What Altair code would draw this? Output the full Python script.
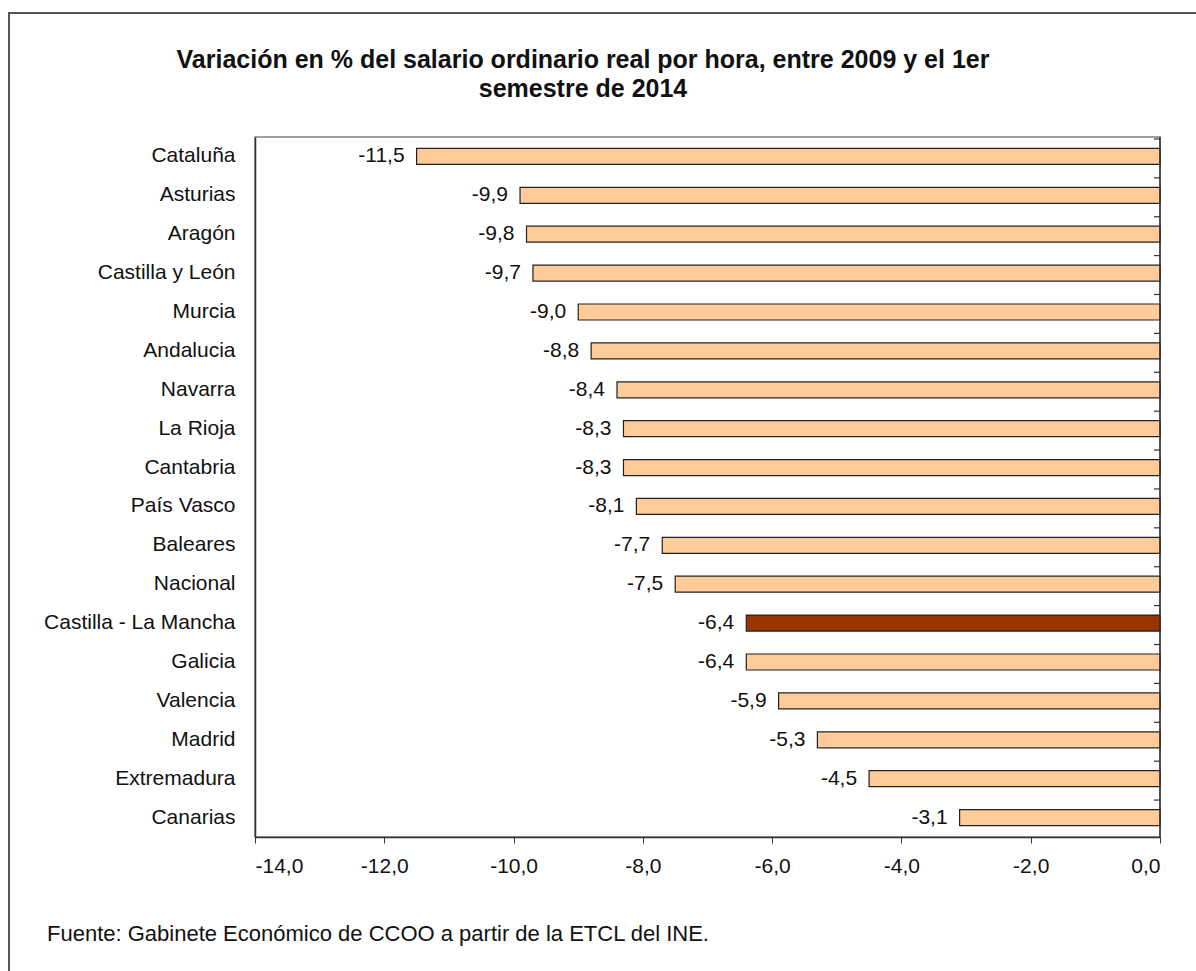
import altair as alt
import pandas as pd

regions = ["Cataluña", "Asturias", "Aragón", "Castilla y León", "Murcia", "Andalucia",
           "Navarra", "La Rioja", "Cantabria", "País Vasco", "Baleares", "Nacional",
           "Castilla - La Mancha", "Galicia", "Valencia", "Madrid", "Extremadura", "Canarias"]
values = [-11.5, -9.9, -9.8, -9.7, -9.0, -8.8, -8.4, -8.3, -8.3, -8.1, -7.7, -7.5,
          -6.4, -6.4, -5.9, -5.3, -4.5, -3.1]
highlight = "Castilla - La Mancha"
x_ticks = [-14, -12, -10, -8, -6, -4, -2, 0]
title_lines = ["Variación en % del salario ordinario real por hora, entre 2009 y el 1er",
               "semestre de 2014"]
source_text = "Fuente: Gabinete Económico de CCOO a partir de la ETCL del INE."

df = pd.DataFrame({
    "region": regions,
    "value": values,
    "label": [f"{v:.1f}".replace(".", ",") for v in values],
    "hl": [r == highlight for r in regions],
})

W, H = 905, 700
FONT = "Liberation Sans"
FS = 21

base = alt.Chart(df)

y_enc = alt.Y("region:N", sort=regions, title=None,
              axis=alt.Axis(ticks=False, labelPadding=20, labelLimit=400,
                            domainColor="#333333", domainWidth=1.5, labelFontSize=FS,
                            labelFont=FONT, labelColor="#111111"))
x_enc = alt.X("value:Q", scale=alt.Scale(domain=[-14, 0], nice=False), title=None,
              axis=alt.Axis(values=x_ticks, grid=False, tickSize=6, tickColor="#333333",
                            domainColor="#333333", domainWidth=1.5, labelPadding=12,
                            labelFontSize=FS, labelFont=FONT, labelColor="#111111",
                            labelExpr="(datum.value < 0 ? '-' : '') + replace(format(abs(datum.value), '.1f'), '.', ',')"))

bars = base.mark_bar(size=16, stroke="#222222", strokeWidth=1.2).encode(
    x=x_enc, y=y_enc,
    color=alt.condition("datum.hl", alt.value("#993300"), alt.value("#FFCC99")),
)

labels = base.mark_text(align="right", baseline="middle", dx=-12, fontSize=FS,
                        font=FONT, color="#111111").encode(
    x="value:Q", y=alt.Y("region:N", sort=regions), text="label:N")

cat_ticks = base.mark_rule(color="#333333", strokeWidth=1.2).encode(
    y=alt.Y("region:N", sort=regions, bandPosition=0),
    x=alt.value(W - 6), x2=alt.value(W))

one = alt.Chart(pd.DataFrame({"a": [0]}))
right_line = one.mark_rule(color="#333333", strokeWidth=1.5).encode(
    x=alt.value(W), y=alt.value(0), y2=alt.value(H))

frame = one.mark_rect(fill=None, stroke="#555555", strokeWidth=2).encode(
    x=alt.value(9 - 255), x2=alt.value(W + 80),
    y=alt.value(13 - 137), y2=alt.value(H + 200))

title1 = one.mark_text(align="center", baseline="alphabetic", fontSize=25, font=FONT,
                       fontWeight="bold", color="#111111").encode(
    x=alt.value(583 - 255), y=alt.value(68 - 137), text=alt.value(title_lines[0]))
title2 = one.mark_text(align="center", baseline="alphabetic", fontSize=25, font=FONT,
                       fontWeight="bold", color="#111111").encode(
    x=alt.value(583 - 255), y=alt.value(97 - 137), text=alt.value(title_lines[1]))

source = one.mark_text(align="left", baseline="alphabetic", fontSize=22,
                       font=FONT, color="#111111").encode(
    x=alt.value(47 - 255), y=alt.value(941 - 137), text=alt.value(source_text))

chart = alt.layer(frame, bars, labels, cat_ticks, right_line, title1, title2, source).properties(
    width=W, height=H,
    autosize=alt.AutoSizeParams(type="none"),
    padding={"left": 255, "top": 137, "right": 36, "bottom": 134},
).configure_view(stroke="#808080", strokeWidth=1.5)

chart.save("out.html", embed_options={"renderer": "svg", "actions": False})
